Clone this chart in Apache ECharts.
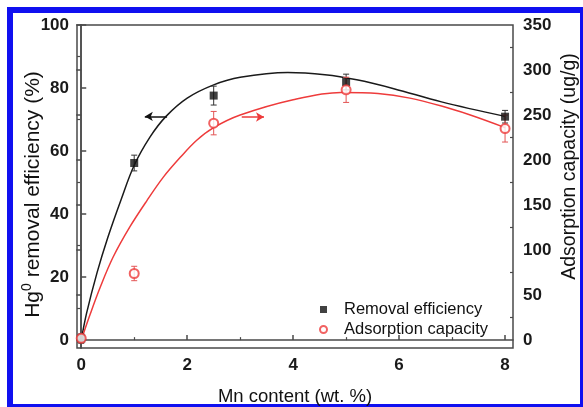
<!DOCTYPE html>
<html>
<head>
<meta charset="utf-8">
<script src="https://cdn.jsdelivr.net/npm/echarts@6/dist/echarts.min.js"></script>
<style>html,body{margin:0;padding:0;background:#fff}#c{width:583px;height:407px}</style>
</head>
<body>
<div id="c"></div>
<script>
// ---- data ----
const mnContent = [0, 1, 2.5, 5, 8];
const removalEfficiency = [0.5, 56.2, 77.6, 81.9, 70.9];       // %
const removalErr = [1.5, 2.5, 3.0, 2.5, 2.0];
const adsorptionCapacity = [2, 74, 241, 278, 235];              // ug/g
const adsorptionErr = [4, 8, 13, 14, 15];
// fitted curves
const fitRemovalX = [0, 0.1, 0.3, 0.5, 0.75, 1, 1.3, 1.6, 2, 2.5, 3, 3.9, 4.6, 5.2, 5.9, 6.8, 8];
const fitRemovalY = [0, 8.5, 21.5, 32.5, 44.5, 55.5, 64.5, 71, 76.8, 81, 83.4, 84.9, 84.2, 82.6, 79.8, 75.6, 71];
const fitAdsorpX = [0, 0.17, 0.36, 0.6, 0.92, 1.24, 1.55, 1.87, 2.18, 2.5, 3, 4, 4.9, 5.6, 6.8, 8];
const fitAdsorpY = [0, 29, 59, 92, 126, 155, 181, 203, 222, 236, 250, 267, 275, 274, 260, 236];
const xTicks = [0, 2, 4, 6, 8];
const xMinor = [1, 3, 5, 7];
const leftTicks = [0, 20, 40, 60, 80, 100];
const leftMinor = [10, 30, 50, 70, 90];
const rightTicks = [0, 50, 100, 150, 200, 250, 300, 350];
const rightMinor = [25, 75, 125, 175, 225, 275, 325];
// annotation arrows [x1, y1, x2, y2] in left-axis units
const arrowLeft = [1.62, 71, 1.2, 71];
const arrowRight = [3.03, 70.8, 3.45, 70.8];

const BLACK = '#111';
const RED = '#ee3b3b';
const FRAME = '#4a4a4a';
const font = 'Liberation Sans, Arial, sans-serif';

const chart = echarts.init(document.getElementById('c'), null, {renderer: 'canvas'});

function errSeries(name, yIdx, xs, ys, es, color) {
  return {
    name: name, type: 'custom', yAxisIndex: yIdx, z: 3,
    data: xs.map((x, i) => [x, ys[i] - es[i], ys[i] + es[i]]),
    renderItem: function (params, api) {
      const lo = api.coord([api.value(0), api.value(1)]);
      const hi = api.coord([api.value(0), api.value(2)]);
      const w = 3;
      const st = {stroke: color, lineWidth: 1};
      return {type: 'group', children: [
        {type: 'line', shape: {x1: lo[0], y1: lo[1], x2: hi[0], y2: hi[1]}, style: st},
        {type: 'line', shape: {x1: lo[0] - w, y1: lo[1], x2: lo[0] + w, y2: lo[1]}, style: st},
        {type: 'line', shape: {x1: hi[0] - w, y1: hi[1], x2: hi[0] + w, y2: hi[1]}, style: st}
      ]};
    },
    silent: true
  };
}

const xMin = -0.08, xMax = 8.15;
const lMin = -2.5, lMax = 100;
const rMin = -8.75, rMax = 350;

const tickLabelStyle = {fontFamily: font, fontWeight: 'bold', fontSize: 17, color: '#1a1a1a'};

const option = {
  animation: false,
  backgroundColor: '#fff',
  grid: {left: 77, right: 70, top: 25, bottom: 59, outerBoundsMode: 'none', containLabel: false,
         show: true, borderColor: FRAME, borderWidth: 1.5, backgroundColor: 'transparent'},
  legend: {
    data: [{name: 'Removal efficiency', icon: 'rect'}, {name: 'Adsorption capacity', icon: 'emptyCircle'}],
    orient: 'vertical', left: 314, top: 296, itemWidth: 7, itemHeight: 7, itemGap: 3,
    textStyle: {fontFamily: font, fontSize: 16.5, color: '#111', padding: [0, 0, 0, 12]}
  },
  xAxis: [
    {type: 'value', min: xMin, max: xMax, position: 'bottom',
     name: 'Mn content (wt. %)', nameLocation: 'middle', nameGap: 39, nameMoveOverlap: false,
     nameTextStyle: {fontFamily: font, fontSize: 18.5, color: '#111'},
     axisLine: {show: true, lineStyle: {color: FRAME, width: 1.5}},
     axisTick: {show: true, inside: true, length: 5, customValues: xTicks, lineStyle: {color: FRAME, width: 1.5}},
     axisLabel: {customValues: xTicks, margin: 9, ...tickLabelStyle},
     splitLine: {show: false}},
    {type: 'value', min: xMin, max: xMax, position: 'bottom',
     axisLine: {show: false},
     axisTick: {show: true, inside: true, length: 3, customValues: xMinor, lineStyle: {color: FRAME, width: 1.2}},
     axisLabel: {show: false}, splitLine: {show: false}}
  ],
  yAxis: [
    {type: 'value', min: lMin, max: lMax, position: 'left',
     name: '{a|Hg}{s|0}{a| removal efficiency (%)}', nameLocation: 'middle', nameGap: 33, nameRotate: 90, nameMoveOverlap: false,
     nameTextStyle: {padding: [0, 16, 0, 0], rich: {
       a: {fontFamily: font, fontSize: 21, color: '#111', verticalAlign: 'bottom', lineHeight: 24},
       s: {fontFamily: font, fontSize: 14, color: '#111', verticalAlign: 'top', lineHeight: 24}
     }},
     axisLine: {show: true, lineStyle: {color: FRAME, width: 1.5}},
     axisTick: {show: true, inside: true, length: 5, customValues: leftTicks, lineStyle: {color: FRAME, width: 1.5}},
     axisLabel: {customValues: leftTicks, margin: 8, ...tickLabelStyle},
     splitLine: {show: false}},
    {type: 'value', min: rMin, max: rMax, position: 'right',
     name: 'Adsorption capacity (ug/g)', nameLocation: 'middle', nameGap: 47, nameRotate: 90, nameMoveOverlap: false,
     nameTextStyle: {fontFamily: font, fontSize: 19.5, color: '#111', padding: [0, 0, 0, 40]},
     axisLine: {show: true, lineStyle: {color: FRAME, width: 1.5}},
     axisTick: {show: true, inside: true, length: 5, customValues: rightTicks, lineStyle: {color: FRAME, width: 1.5}},
     axisLabel: {customValues: rightTicks, margin: 10, ...tickLabelStyle},
     splitLine: {show: false}},
    {type: 'value', min: lMin, max: lMax, position: 'left',
     axisLine: {show: false},
     axisTick: {show: true, inside: true, length: 3, customValues: leftMinor, lineStyle: {color: FRAME, width: 1.2}},
     axisLabel: {show: false}, splitLine: {show: false}},
    {type: 'value', min: rMin, max: rMax, position: 'right',
     axisLine: {show: false},
     axisTick: {show: true, inside: true, length: 3, customValues: rightMinor, lineStyle: {color: FRAME, width: 1.2}},
     axisLabel: {show: false}, splitLine: {show: false}}
  ],
  series: [
    {name: 'fitRemoval', type: 'line', yAxisIndex: 0, smooth: 0.35, showSymbol: false, silent: true, z: 2,
     data: fitRemovalX.map((x, i) => [x, fitRemovalY[i]]),
     lineStyle: {color: '#1a1a1a', width: 1.5},
     markLine: {silent: true, symbol: ['none', 'arrow'], symbolSize: [7, 8], label: {show: false},
       lineStyle: {color: BLACK, width: 1.5, type: 'solid'},
       data: [[{coord: [arrowLeft[0], arrowLeft[1]]}, {coord: [arrowLeft[2], arrowLeft[3]]}]]}},
    {name: 'fitAdsorp', type: 'line', yAxisIndex: 1, smooth: 0.35, showSymbol: false, silent: true, z: 2,
     data: fitAdsorpX.map((x, i) => [x, fitAdsorpY[i]]),
     lineStyle: {color: RED, width: 1.5}},
    {name: 'arrowRed', type: 'line', yAxisIndex: 0, data: [], silent: true,
     markLine: {silent: true, symbol: ['none', 'arrow'], symbolSize: [7, 8], label: {show: false},
       lineStyle: {color: RED, width: 1.5, type: 'solid'},
       data: [[{coord: [arrowRight[0], arrowRight[1]]}, {coord: [arrowRight[2], arrowRight[3]]}]]}},
    errSeries('errRemoval', 0, mnContent, removalEfficiency, removalErr, '#333'),
    errSeries('errAdsorp', 1, mnContent, adsorptionCapacity, adsorptionErr, '#e35555'),
    {name: 'Removal efficiency', type: 'scatter', yAxisIndex: 0, symbol: 'rect', symbolSize: 8, z: 5,
     data: mnContent.map((x, i) => [x, removalEfficiency[i]]),
     itemStyle: {color: BLACK}},
    {name: 'Adsorption capacity', type: 'scatter', yAxisIndex: 1, symbol: 'emptyCircle', symbolSize: 9, z: 5,
     data: mnContent.map((x, i) => [x, adsorptionCapacity[i]]),
     itemStyle: {color: RED, borderWidth: 1.2}}
  ],
  graphic: [
    {type: 'rect', shape: {x: 7, y: 7, width: 6, height: 400}, style: {fill: '#1010f0'}, silent: true},
    {type: 'rect', shape: {x: 7, y: 7, width: 576, height: 6}, style: {fill: '#1010f0'}, silent: true},
    {type: 'rect', shape: {x: 580, y: 7, width: 3, height: 400}, style: {fill: '#1010f0'}, silent: true},
    {type: 'rect', shape: {x: 7, y: 404, width: 576, height: 3}, style: {fill: '#1010f0'}, silent: true}
  ]
};
chart.setOption(option);
</script>
</body>
</html>
